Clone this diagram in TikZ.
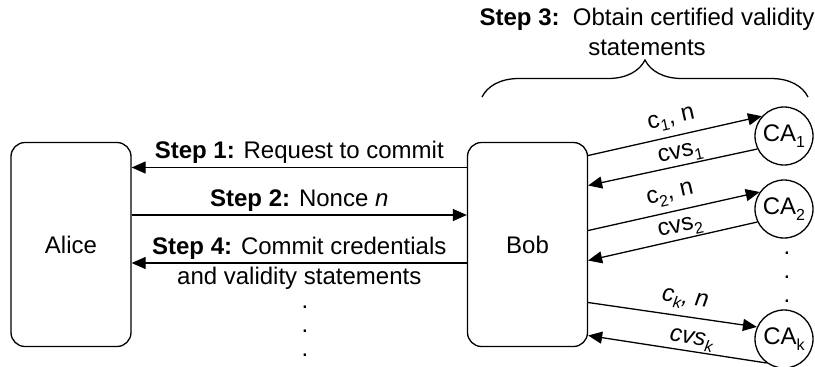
\documentclass[tikz,border=0pt]{standalone}
\usepackage{fontspec}
\setmainfont{Liberation Sans}
\usetikzlibrary{positioning,arrows.meta,decorations.pathreplacing}
\newcommand{\lsub}[1]{\raisebox{-0.45ex}{\fontsize{8}{8}\selectfont #1}}

\begin{document}
\begin{tikzpicture}[x=0.5pt, y=-0.5pt, line width=0.65pt, on grid,
  >={Triangle[length=7pt,width=6pt]},
  every node/.style={font=\fontsize{12}{15}\selectfont},
  party/.style={draw, rounded corners=7pt, minimum width=60pt, minimum height=102pt},
  authority/.style={draw, circle, minimum size=29pt, inner sep=0pt}]

  \useasboundingbox (0,0) rectangle (815,366);

  % Alice and Bob
  \node[party] (alice) at (71,244.5) {Alice};
  \node[party] (bob) [right=228.25pt of alice] {Bob};

  % Certificate authorities
  \node[authority] (ca1) at (784,136) {CA\lsub{1}};
  \node[authority] (ca2) [below=36.5pt of ca1] {CA\lsub{2}};
  \node[authority] (cak) [below=65pt of ca2] {CA\lsub{k}};

  % Messages between Alice and Bob
  \path[->]
    ([yshift=38.5pt]bob.west) edge node[above, inner sep=1.5pt] {\textbf{Step 1:} Request to commit} ([yshift=38.5pt]alice.east)
    ([yshift=14.75pt]alice.east) edge node[above, inner sep=1.5pt] {\textbf{Step 2:} Nonce \textit{n}} ([yshift=14.75pt]bob.west)
    ([yshift=-9.25pt]bob.west) edge node[align=center] {\textbf{Step 4:} Commit credentials\\and validity statements} ([yshift=-9.25pt]alice.east);
  \node (moresteps) at (305,331) [align=center, font=\fontsize{12}{12}\selectfont] {.\\.\\.};

  % Messages between Bob and the CAs
  \path[->]
    ([yshift=44.5pt]bob.east) edge node[sloped, above, inner sep=3pt] {c\lsub{1}, n} (ca1.138)
    ([yshift=29.5pt]bob.east) edge[<-] node[pos=0.56, sloped, above, inner sep=0.5pt] {cvs\lsub{1}} (ca1.206)
    ([yshift=7pt]bob.east) edge node[sloped, above, inner sep=3pt] {c\lsub{2}, n} (ca2.145)
    ([yshift=-8pt]bob.east) edge[<-] node[pos=0.56, sloped, above, inner sep=0.5pt] {cvs\lsub{2}} (ca2.206)
    ([yshift=-29pt]bob.east) edge node[pos=0.56, sloped, above, inner sep=3pt] {\textit{c\lsub{k}, n}} (cak.156)
    ([yshift=-45.5pt]bob.east) edge[<-] node[pos=0.57, sloped, above, inner sep=0.5pt] {\textit{cvs\lsub{k}}} (cak.234);
  \node (morecas) at (787,277) [align=center, font=\fontsize{12}{12}\selectfont] {.\\.\\.};

  % Brace over the CA exchange
  \coordinate (braceL) at (482,97);
  \coordinate (braceR) at (808,97);
  \draw[decorate, decoration={brace, amplitude=18.5pt}] (braceL) -- (braceR);
  \node (step3) at (647,32) [align=center] {\textbf{Step 3:}\ \ Obtain certified validity\\statements};

\end{tikzpicture}
\end{document}
